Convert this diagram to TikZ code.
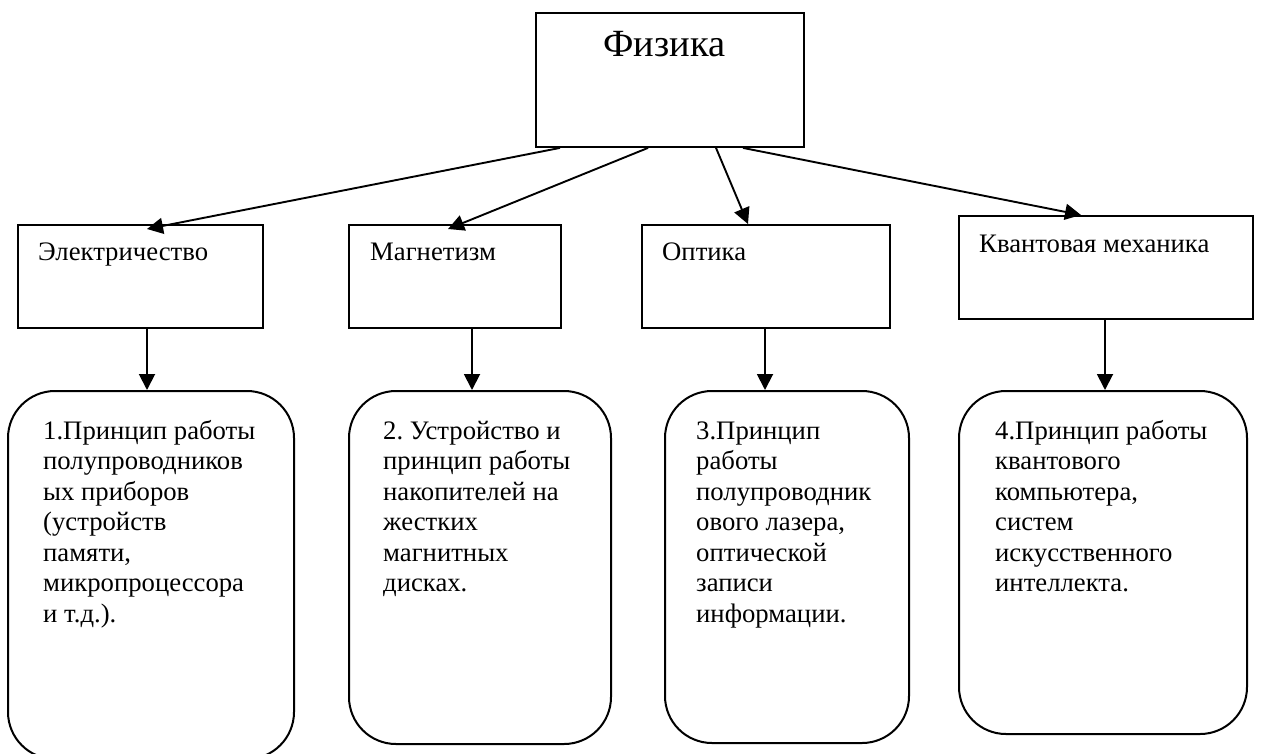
\documentclass[tikz,border=0pt]{standalone}
\usepackage{fontspec}
\setmainfont{Liberation Serif}
\frenchspacing
\usetikzlibrary{arrows.meta,calc}
\begin{document}
\begin{tikzpicture}[x=1pt,y=-1pt,
  box/.style={draw=black, line width=1.9pt, inner sep=0pt, anchor=north west},
  rbox/.style={draw=black, line width=2pt, inner sep=0pt, anchor=north west, rounded corners=47pt},
  lbl/.style={anchor=base west, inner sep=0pt, font=\fontsize{26.7}{30}\selectfont},
  para/.style={anchor=base west, inner sep=0pt, align=left, font=\fontsize{26.7}{30.5}\selectfont},
  arr/.style={line width=1.9pt, -{Triangle[length=16pt,width=16pt]}}]
\useasboundingbox (0,0) rectangle (1271,753);
% top
\node[box, minimum width=268pt, minimum height=134pt] (phys) at (535,12) {};
\node[anchor=base west, inner sep=0pt, font=\fontsize{38.5}{44}\selectfont] (physl) at (603,56) {Физика};
% level 2
\node[box, minimum width=245pt, minimum height=103pt] (el) at (17,224) {};
\node[lbl] (ell) at (38,260) {Электричество};
\node[box, minimum width=212pt, minimum height=103pt] (mag) at (348,224) {};
\node[lbl] (magl) at (370,260) {Магнетизм};
\node[box, minimum width=248pt, minimum height=103pt] (opt) at (641,224) {};
\node[lbl] (optl) at (662,260) {Оптика};
\node[box, minimum width=294pt, minimum height=103pt] (kv) at (958,215) {};
\node[lbl] (kvl) at (979,252) {Квантовая механика};
% level 3 (base anchor = last line baseline)
\node[rbox, minimum width=286pt, minimum height=368pt] (r1) at (7,390) {};
\node[para] (r1l) at (43,622) {1.Принцип работы\\полупроводников\\ых приборов\\(устройств\\памяти,\\микропроцессора\\и т.д.).};
\node[rbox, minimum width=262pt, minimum height=353pt] (r2) at (348,390) {};
\node[para] (r2l) at (383,591.5) {2. Устройство и\\принцип работы\\накопителей на\\жестких\\магнитных\\дисках.};
\node[rbox, minimum width=244pt, minimum height=352pt] (r3) at (664,390) {};
\node[para] (r3l) at (696,622) {3.Принцип\\работы\\полупроводник\\ового лазера,\\оптической\\записи\\информации.};
\node[rbox, minimum width=288pt, minimum height=343pt] (r4) at (958,390) {};
\node[para] (r4l) at (995,591.5) {4.Принцип работы\\квантового\\компьютера,\\систем\\искусственного\\интеллекта.};
% connectors
\draw[arr] ([xshift=25pt]phys.south west) -- ([xshift=130pt,yshift=-5pt]el.north west);
\draw[arr] ([xshift=113pt]phys.south west) -- ([xshift=100pt,yshift=-5pt]mag.north west);
\draw[arr] ([xshift=181pt]phys.south west) -- ([xshift=107pt]opt.north west);
\draw[arr] ([xshift=208pt]phys.south west) -- ([xshift=123pt]kv.north west);
\draw[arr] ([xshift=130pt]el.south west) -- ([xshift=140pt]r1.north west);
\draw[arr] ([xshift=124pt]mag.south west) -- ([xshift=124pt]r2.north west);
\draw[arr] ([xshift=124pt]opt.south west) -- ([xshift=101pt]r3.north west);
\draw[arr] ([xshift=147pt]kv.south west) -- ([xshift=147pt]r4.north west);
\end{tikzpicture}
\end{document}
